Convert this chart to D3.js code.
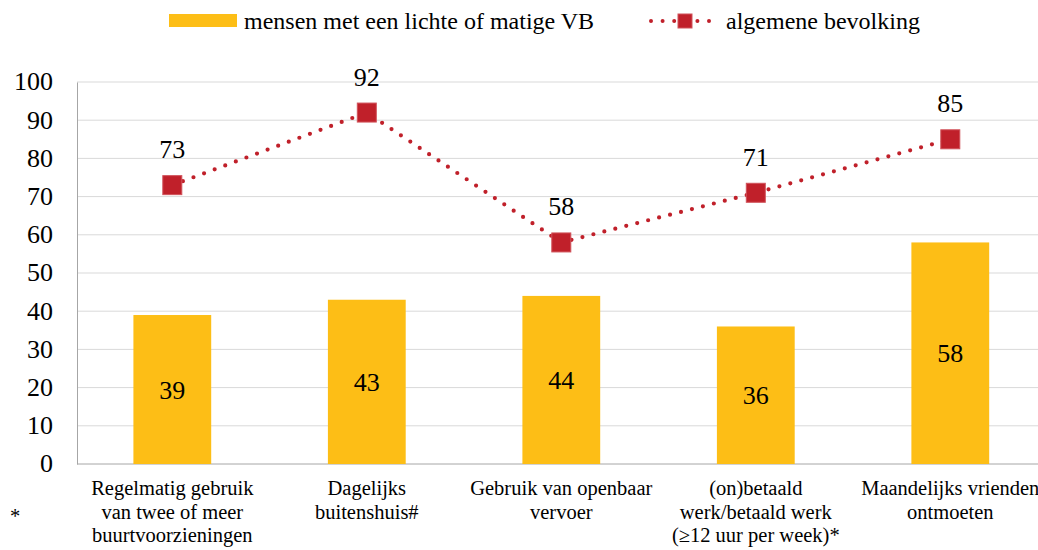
<!DOCTYPE html>
<html>
<head>
<meta charset="utf-8">
<script src="https://cdn.jsdelivr.net/npm/d3@7"></script>
</head>
<body style="margin:0">
<script>
const categories = [
  ["Regelmatig gebruik", "van twee of meer", "buurtvoorzieningen"],
  ["Dagelijks", "buitenshuis#"],
  ["Gebruik van openbaar", "vervoer"],
  ["(on)betaald", "werk/betaald werk", "(\u226512 uur per week)*"],
  ["Maandelijks vrienden", "ontmoeten"]
];
const vbValues = [39, 43, 44, 36, 58];
const generalValues = [73, 92, 58, 71, 85];
const yTicks = [0, 10, 20, 30, 40, 50, 60, 70, 80, 90, 100];
const seriesNames = ["mensen met een lichte of matige VB", "algemene bevolking"];

const yellow = "#fdbe16", red = "#c0202a";
const font = "'Liberation Serif'";

const margin = { top: 82, left: 77 };
const width = 1038, height = 550;
const plotW = 968.6, plotH = 382;

const svg = d3.select("body").append("svg")
  .attr("width", width)
  .attr("height", height);

const g = svg.append("g")
  .attr("transform", "translate(" + margin.left + "," + margin.top + ")");

const x = d3.scaleBand()
  .domain(d3.range(categories.length))
  .range([0, plotW])
  .paddingInner(0.6)
  .paddingOuter(0.29);

const y = d3.scaleLinear().domain([0, 100]).range([plotH, 0]);

// gridlines
g.append("g")
  .selectAll("line")
  .data(yTicks.filter(d => d > 0))
  .enter().append("line")
  .attr("x1", 0).attr("x2", 980)
  .attr("y1", d => y(d)).attr("y2", d => y(d))
  .attr("stroke", "#d9d9d9").attr("stroke-width", 1);

// y axis
const yAxis = g.append("g")
  .call(d3.axisLeft(y).tickValues(yTicks).tickSize(0).tickPadding(24))
  .attr("font-family", null)
  .attr("font-size", null);
yAxis.select(".domain").attr("stroke", "#a6a6a6");
yAxis.selectAll("text")
  .attr("fill", "#000")
  .attr("font-size", 26)
  .attr("dy", "0.3em");

// x axis line
g.append("line")
  .attr("x1", 0).attr("x2", 980)
  .attr("y1", plotH).attr("y2", plotH)
  .attr("stroke", "#a6a6a6");

// bars
g.selectAll(".bar")
  .data(vbValues)
  .enter().append("rect")
  .attr("class", "bar")
  .attr("x", (d, i) => x(i))
  .attr("y", d => y(d))
  .attr("width", x.bandwidth())
  .attr("height", d => plotH - y(d))
  .attr("fill", yellow);

g.selectAll(".barLabel")
  .data(vbValues)
  .enter().append("text")
  .attr("x", (d, i) => x(i) + x.bandwidth() / 2)
  .attr("y", d => (y(d) + plotH) / 2 + 9)
  .attr("text-anchor", "middle")
  .attr("font-size", 26)
  .text(d => d);

// line
const cx = i => x(i) + x.bandwidth() / 2;
g.append("path")
  .datum(generalValues)
  .attr("d", d3.line().x((d, i) => cx(i)).y(d => y(d)))
  .attr("fill", "none")
  .attr("stroke", red)
  .attr("stroke-width", 4.2)
  .attr("stroke-linecap", "round")
  .attr("stroke-dasharray", "0 11.3");

const sq = 19;
g.selectAll(".marker")
  .data(generalValues)
  .enter().append("rect")
  .attr("x", (d, i) => cx(i) - sq / 2)
  .attr("y", d => y(d) - sq / 2)
  .attr("width", sq).attr("height", sq)
  .attr("fill", red)
  .attr("stroke", "#d0525a").attr("stroke-width", 1);

g.selectAll(".lineLabel")
  .data(generalValues)
  .enter().append("text")
  .attr("x", (d, i) => cx(i))
  .attr("y", d => y(d) - 27)
  .attr("text-anchor", "middle")
  .attr("font-size", 26)
  .text(d => d);

// category labels, one text per line
categories.forEach((lines, i) => {
  lines.forEach((t, j) => {
    g.append("text")
      .attr("x", cx(i))
      .attr("y", plotH + 31 + j * 23.5)
      .attr("text-anchor", "middle")
      .attr("font-size", 20.5)
      .text(t);
  });
});

svg.append("text")
  .attr("x", 15).attr("y", 523)
  .attr("text-anchor", "middle")
  .attr("font-size", 20.5)
  .text("*");

// legend
svg.append("rect")
  .attr("x", 169).attr("y", 14).attr("width", 68).attr("height", 13)
  .attr("fill", yellow);
svg.append("text")
  .attr("x", 244).attr("y", 29)
  .attr("font-size", 24)
  .text(seriesNames[0]);
svg.append("line")
  .attr("x1", 651).attr("x2", 712).attr("y1", 21).attr("y2", 21)
  .attr("stroke", red).attr("stroke-width", 4)
  .attr("stroke-linecap", "round")
  .attr("stroke-dasharray", "0 11.6");
svg.append("rect")
  .attr("x", 678).attr("y", 14).attr("width", 14).attr("height", 14)
  .attr("fill", red)
  .attr("stroke", "#d0525a").attr("stroke-width", 1);
svg.append("text")
  .attr("x", 726).attr("y", 29)
  .attr("font-size", 24)
  .text(seriesNames[1]);

// serif on every text element directly
svg.selectAll("text").attr("font-family", font);
</script>
</body>
</html>
